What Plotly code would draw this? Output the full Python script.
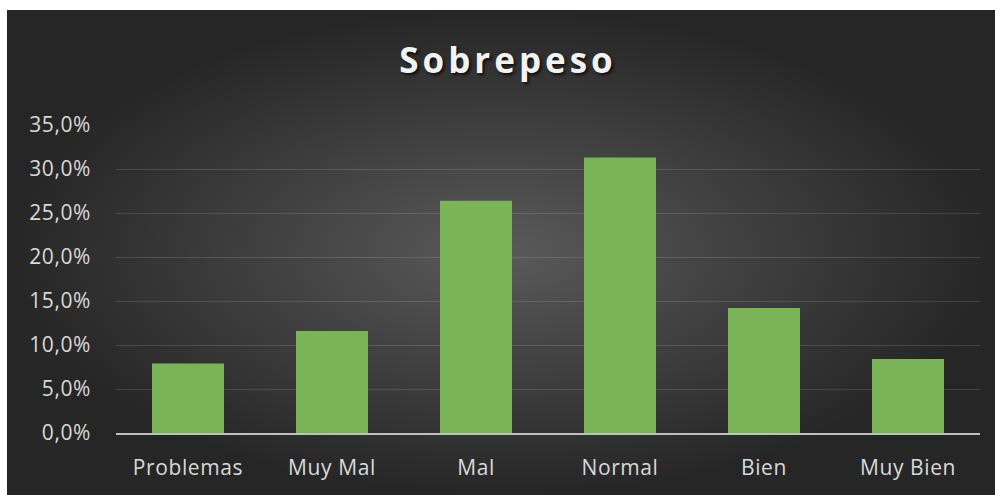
import plotly.graph_objects as go

categories = ["Problemas", "Muy Mal", "Mal", "Normal", "Bien", "Muy Bien"]
percentages = [7.9, 11.6, 26.4, 31.3, 14.2, 8.4]
y_ticks = [0, 5, 10, 15, 20, 25, 30, 35]
y_tick_labels = [f"{v:.1f}%".replace(".", ",") for v in y_ticks]

W, H = 995, 495


def spaced(text, px):
    return f'<span style="letter-spacing:{px}px">{text}</span>'


fig = go.Figure()

# radial gradient backdrop, like the Excel dark chart style
fig.add_trace(
    go.Scatter(
        x=[0, 1, 1, 0, 0],
        y=[0, 0, 1, 1, 0],
        mode="lines",
        line=dict(width=0),
        fill="toself",
        fillgradient=dict(
            type="radial",
            colorscale=[[0, "#5a5a5a"], [0.55, "#3d3d3d"], [1, "#262626"]],
        ),
        hoverinfo="skip",
        showlegend=False,
        xaxis="x",
        yaxis="y",
    )
)

fig.add_trace(
    go.Bar(
        x=categories,
        y=percentages,
        marker=dict(color="#7bb457", line=dict(width=0)),
        width=0.5,
        showlegend=False,
        hoverinfo="skip",
        xaxis="x2",
        yaxis="y2",
    )
)

fig.update_layout(
    width=W,
    height=H,
    margin=dict(l=0, r=0, t=0, b=0, autoexpand=False),
    paper_bgcolor="white",
    plot_bgcolor="rgba(0,0,0,0)",
    font=dict(family="Open Sans", color="#d9d9d9"),
    title=dict(
        text=spaced("Sobrepeso", 4),
        x=508 / W,
        xanchor="center",
        xref="paper",
        y=1 - 61 / H,
        yanchor="middle",
        yref="paper",
        font=dict(
            family="Open Sans",
            size=35,
            weight="bold",
            color="#f2f2f2",
            shadow="2px 2px 3px rgba(0,0,0,0.7)",
        ),
    ),
    xaxis=dict(domain=[7 / W, 1], range=[0, 1], visible=False, fixedrange=True),
    yaxis=dict(domain=[0, 1 - 10 / H], range=[0, 1], visible=False, fixedrange=True),
    xaxis2=dict(
        domain=[116 / W, 980 / W],
        anchor="y2",
        tickvals=categories,
        ticktext=[spaced(c, 0.6) for c in categories],
        showgrid=False,
        showline=True,
        linecolor="#bfbfbf",
        linewidth=2,
        ticks="",
        tickfont=dict(size=21, color="#d9d9d9"),
        ticklabelstandoff=15,
        fixedrange=True,
    ),
    yaxis2=dict(
        domain=[62 / H, 370 / H],
        anchor="x2",
        range=[0, 35],
        tickvals=y_ticks,
        ticktext=[spaced(t, 0.6) for t in y_tick_labels],
        showgrid=True,
        gridcolor="rgba(255,255,255,0.13)",
        gridwidth=1,
        zeroline=False,
        showline=False,
        ticks="",
        tickfont=dict(size=21, color="#d9d9d9"),
        ticklabelstandoff=24,
        fixedrange=True,
    ),
)

fig.write_html(
    "out.html",
    config=dict(displayModeBar=False),
    post_script="document.body.style.margin='0';"
    "document.documentElement.style.overflow='hidden';",
)
